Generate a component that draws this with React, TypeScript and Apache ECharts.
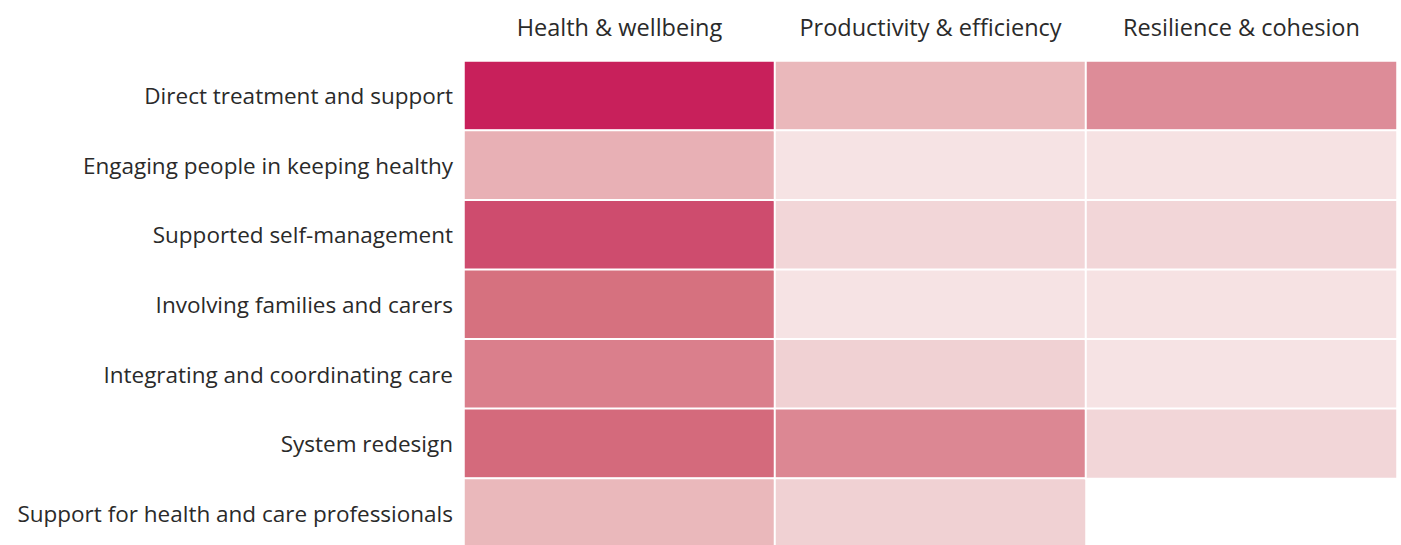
import React, { useEffect, useRef } from "react";
import * as echarts from "echarts";

const outcomes = ["Health & wellbeing", "Productivity & efficiency", "Resilience & cohesion"];
const approaches = [
  "Direct treatment and support",
  "Engaging people in keeping healthy",
  "Supported self-management",
  "Involving families and carers",
  "Integrating and coordinating care",
  "System redesign",
  "Support for health and care professionals",
];
// strength of evidence / impact score (0 = none, 10 = strongest), null = no cell
const healthScores = [10, 4.4, 8.5, 7, 6.5, 7.3, 4];
const productivityScores = [4, 1, 2, 1, 2.5, 6.2, 2.5];
const resilienceScores = [6, 1.1, 2, 1.1, 1, 2, null];

const rampColors = [
  "#FAEEEF", "#F6E3E4", "#F2D6D8", "#EECBCD", "#EAB8BB", "#E4A3AB",
  "#DD8C98", "#D6717F", "#D05874", "#CC3F67", "#C8205B",
];

export default function App() {
  const ref = useRef<HTMLDivElement>(null);
  useEffect(() => {
    if (!ref.current) return;
    const chart = echarts.init(ref.current, undefined, { renderer: "svg" });
    const cols = [healthScores, productivityScores, resilienceScores];
    const data: any[] = [];
    cols.forEach((arr, ci) => {
      arr.forEach((v, ri) => {
        if (v !== null && v !== undefined) data.push([ci, ri, v]);
      });
    });
    chart.setOption({
      animation: false,
      backgroundColor: "#ffffff",
      textStyle: { fontFamily: "Open Sans" },
      grid: { left: 464, right: 4, top: 61, bottom: -3, containLabel: false, outerBoundsMode: "none" },
      xAxis: {
        type: "category",
        data: outcomes,
        position: "top",
        axisLine: { show: false },
        axisTick: { show: false },
        splitLine: { show: false },
        axisLabel: { interval: 0, fontSize: 23.5, color: "#2a2a2a", margin: 22, fontFamily: "Open Sans" },
      },
      yAxis: {
        type: "category",
        data: approaches,
        inverse: true,
        axisLine: { show: false },
        axisTick: { show: false },
        splitLine: { show: false },
        axisLabel: { interval: 0, fontSize: 22.5, color: "#2a2a2a", margin: 11, fontFamily: "Open Sans" },
      },
      visualMap: {
        show: false,
        type: "continuous",
        min: 0,
        max: 10,
        dimension: 2,
        inRange: { color: rampColors },
      },
      series: [
        {
          type: "heatmap",
          data,
          itemStyle: { borderColor: "#ffffff", borderWidth: 2 },
          emphasis: { disabled: true },
        },
      ],
    });
    return () => chart.dispose();
  }, []);
  return (
    <div
      ref={ref}
      style={{ position: "absolute", left: 0, top: 0, width: 1401, height: 545 }}
    />
  );
}
